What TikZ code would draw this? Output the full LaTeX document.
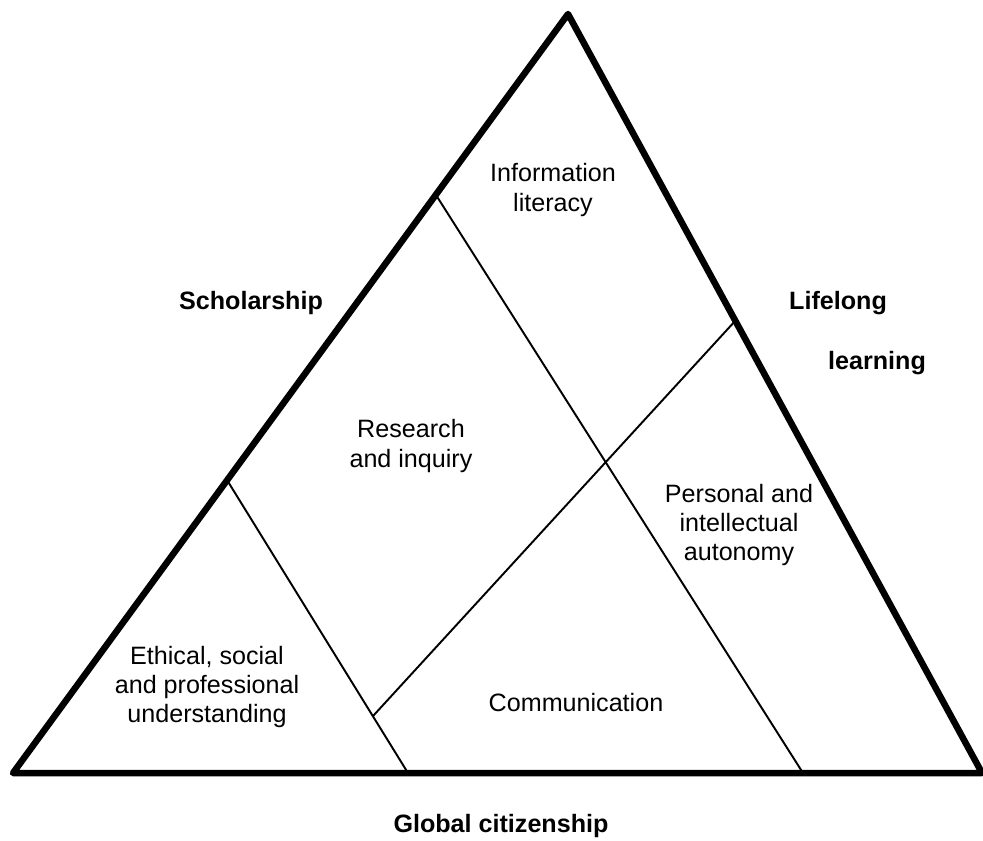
\documentclass[tikz,border=0pt]{standalone}
\usepackage{fontspec}
\setmainfont{Liberation Sans}
\begin{document}
\begin{tikzpicture}[x=0.02cm, y=-0.02cm,
  rim/.style={line width=3.7pt, line join=round},
  split/.style={line width=1.1pt},
  area/.style={align=center, font=\fontsize{14.3}{16.7}\selectfont},
  pillar/.style={font=\fontsize{14.3}{16.7}\selectfont\bfseries}]

  % Fix the page to the size of the reference
  \useasboundingbox (0,0) rectangle (983,840);

  % Define the corners of the big triangle
  \coordinate (L) at (13,773);
  \coordinate (A) at (568,14);
  \coordinate (R) at (982,773);

  % Define where the inner lines meet the sides
  \coordinate (P1) at (436,195);
  \coordinate (B1) at (803,773);
  \coordinate (P2) at (227,480);
  \coordinate (B2) at (408,773);
  \coordinate (P3) at (736,320);
  \coordinate (J) at (373,716);

  % Draw the thin dividing lines
  \draw[split] (P1) -- (B1);
  \draw[split] (P2) -- (B2);
  \draw[split] (P3) -- (J);

  % Draw the thick outline of the triangle
  \draw[rim] (L) -- (A) -- (R) -- cycle;

  % Add the labels inside the regions
  \node[area] (info) at (553,190) {Information\\literacy};
  \node[area] (research) at (411,446) {Research\\and inquiry};
  \node[area] (autonomy) at (739,525) {Personal and\\intellectual\\autonomy};
  \node[area] (ethics) at (207,687) {Ethical, social\\and professional\\understanding};
  \node[area] (comm) at (576,702) {Communication};

  % Add the labels outside the triangle
  \node[pillar] (scholar) at (251,303) {Scholarship};
  \node[pillar] (lifelong) at (838,303) {Lifelong};
  \node[pillar] (learning) at (877,363) {learning};
  \node[pillar] (global) at (501,826) {Global citizenship};

\end{tikzpicture}
\end{document}
